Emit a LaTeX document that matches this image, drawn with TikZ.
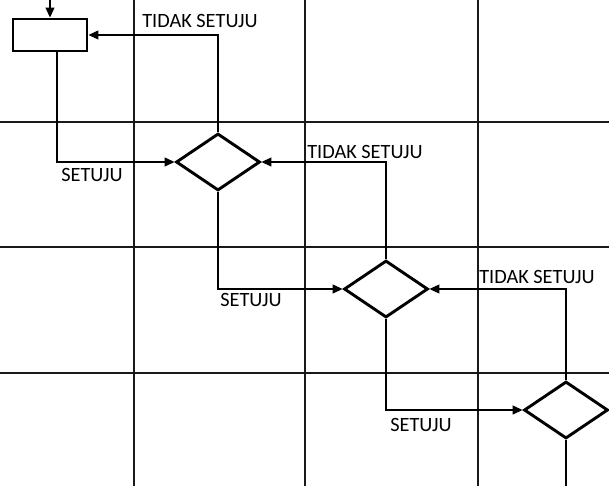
\documentclass[tikz,border=0pt]{standalone}
\usepackage{fontspec}
\setmainfont{Carlito}
\usetikzlibrary{shapes.geometric,arrows.meta}
\begin{document}
\begin{tikzpicture}[x=1pt,y=-1pt,
  gridline/.style={line width=1.9pt,black!90},
  procbox/.style={draw,line width=2.9pt,minimum width=74pt,minimum height=32pt,inner sep=0pt},
  decide/.style={draw,diamond,line width=2.9pt,minimum width=84pt,minimum height=57pt,inner sep=0pt},
  conn/.style={line width=1.2pt,-{Triangle[length=10pt,width=9pt]}},
  lbl/.style={font=\fontsize{20.3}{22}\selectfont,inner sep=0pt}]
\useasboundingbox (0,0) rectangle (609,486);
% grid
\draw[gridline] (134,0) -- (134,486);
\draw[gridline] (305,0) -- (305,486);
\draw[gridline] (478,0) -- (478,486);
\draw[gridline] (0,122) -- (609,122);
\draw[gridline] (0,247) -- (609,247);
\draw[gridline] (0,373) -- (609,373);
% nodes
\node[procbox] (r) at (50,35) {};
\node[decide] (d1) at (218,162) {};
\node[decide] (d2) at (386,289) {};
\node[decide] (d3) at (566,410) {};
\coordinate (start) at (50,0);
\coordinate (end) at (566,486);
% connectors
\draw[conn] (start) -- (r.north);
\draw[conn] ([xshift=7pt]r.south) |- (d1.west);
\draw[conn] (d1.north) |- (r.east);
\draw[conn] (d1.south) |- (d2.west);
\draw[conn] (d2.north) |- (d1.east);
\draw[conn] (d2.south) |- (d3.west);
\draw[conn] (d3.north) |- (d2.east);
\draw[line width=1.2pt] (d3.south) -- (end);
% labels
\node[lbl] (t1) at (200,21) {TIDAK SETUJU};
\node[lbl] (t2) at (365,152) {TIDAK SETUJU};
\node[lbl] (t3) at (537,277) {TIDAK SETUJU};
\node[lbl] (s1) at (92,175) {SETUJU};
\node[lbl] (s2) at (251,300) {SETUJU};
\node[lbl] (s3) at (421,425) {SETUJU};
\end{tikzpicture}
\end{document}
